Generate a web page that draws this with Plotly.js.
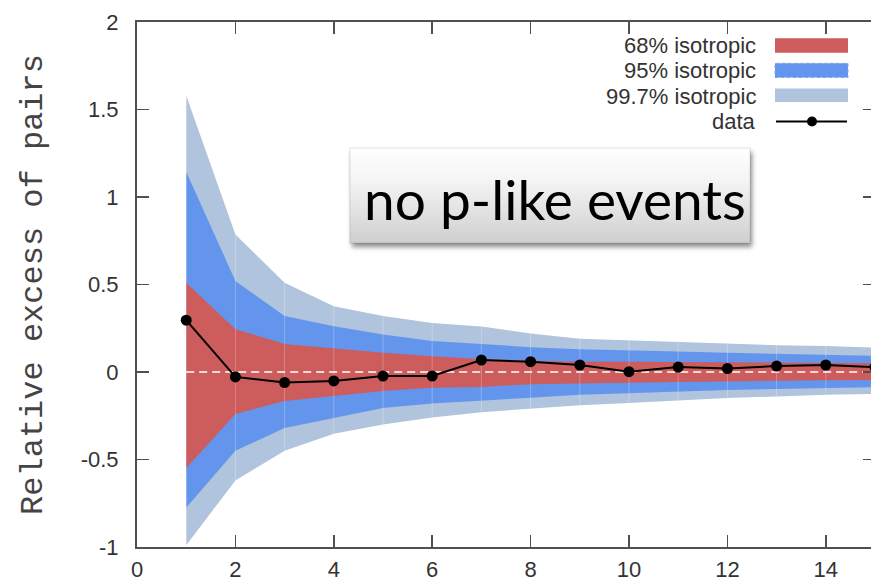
<!DOCTYPE html>
<html>
<head>
<meta charset="utf-8">
<script src="https://cdn.plot.ly/plotly-3.0.1.min.js"></script>
<style>
html,body{margin:0;padding:0;background:#fff;overflow:hidden;width:871px;height:586px;}
#chart{width:880px;height:586px;}
</style>
</head>
<body>
<div id="chart"></div>
<script>
// ---- data ----
const xVals = [1, 2, 3, 4, 5, 6, 7, 8, 9, 10, 11, 12, 13, 14, 15];
const p68Hi = [0.51, 0.245, 0.16, 0.135, 0.11, 0.09, 0.075, 0.065, 0.058, 0.058, 0.057, 0.055, 0.053, 0.052, 0.05];
const p68Lo = [-0.55, -0.24, -0.165, -0.135, -0.108, -0.09, -0.085, -0.07, -0.068, -0.062, -0.057, -0.052, -0.05, -0.047, -0.045];
const p95Hi = [1.145, 0.52, 0.32, 0.262, 0.215, 0.177, 0.16, 0.142, 0.13, 0.125, 0.117, 0.11, 0.103, 0.097, 0.093];
const p95Lo = [-0.775, -0.45, -0.32, -0.262, -0.205, -0.18, -0.165, -0.147, -0.13, -0.12, -0.112, -0.103, -0.097, -0.09, -0.087];
const p997Hi = [1.58, 0.786, 0.51, 0.376, 0.32, 0.28, 0.26, 0.22, 0.19, 0.18, 0.17, 0.16, 0.153, 0.148, 0.14];
const p997Lo = [-0.99, -0.62, -0.45, -0.353, -0.30, -0.26, -0.23, -0.21, -0.19, -0.177, -0.162, -0.148, -0.14, -0.13, -0.125];
const dataY = [0.296, -0.028, -0.06, -0.051, -0.023, -0.023, 0.068, 0.059, 0.04, 0.002, 0.028, 0.02, 0.034, 0.04, 0.028];
const zeroX = [1, 15];
const zeroY = [0, 0];
const legendNames = ['68% isotropic', '95% isotropic', '99.7% isotropic', 'data'];
const xTickVals = [0, 2, 4, 6, 8, 10, 12, 14];
const xTickText = ['0', '2', '4', '6', '8', '10', '12', '14'];
const yTickVals = [-1, -0.5, 0, 0.5, 1, 1.5, 2];
const yTickText = ['-1', '-0.5', '0', '0.5', '1', '1.5', '2'];
const yTitle = 'Relative excess of pairs';
const boxText = 'no p-like events';

// ---- styles ----
const C68 = '#cd5c5c', C95 = '#6495ed', C997 = '#b0c4de';
const AX = '#505050';

function band(lo, hi, color, name) {
  return [
    {x: xVals, y: lo, mode: 'lines', line: {width: 0}, showlegend: false, hoverinfo: 'skip', name: name + ' low'},
    {x: xVals, y: hi, mode: 'lines', line: {width: 0}, fill: 'tonexty', fillcolor: color, showlegend: false, name: name}
  ];
}

// faint seams between polygon segments
const seamX = [], seamY = [];
xVals.forEach((xv, i) => { seamX.push(xv, xv, null); seamY.push(p997Lo[i], p997Hi[i], null); });

const traces = [
  ...band(p997Lo, p997Hi, C997, legendNames[2]),
  ...band(p95Lo, p95Hi, C95, legendNames[1]),
  ...band(p68Lo, p68Hi, C68, legendNames[0]),
  {x: seamX, y: seamY, mode: 'lines', line: {color: 'rgba(255,255,255,0.25)', width: 1}, showlegend: false, hoverinfo: 'skip'},
  {x: zeroX, y: zeroY, mode: 'lines', line: {color: 'rgba(255,236,236,0.85)', width: 2, dash: '8px,5px'}, showlegend: false, hoverinfo: 'skip'},
  {x: xVals, y: dataY, mode: 'lines+markers', name: legendNames[3], line: {color: '#000', width: 2}, marker: {color: '#000', size: 11}, showlegend: false}
];

// pixel helpers for decorations (plot: left 137, top 22, width 738, height 525)
const PL = 137, PT = 22, PW = 738, PH = 525;
const px = v => (v - PL) / PW;
const py = v => (PT + PH - v) / PH;

const svg = "<svg xmlns='http://www.w3.org/2000/svg' width='416' height='110' viewBox='0 0 416 110'>" +
  "<defs><linearGradient id='g' x1='0' y1='0' x2='0' y2='1'><stop offset='0' stop-color='#ffffff'/><stop offset='0.35' stop-color='#f4f4f4'/><stop offset='1' stop-color='#cfcfcf'/></linearGradient>" +
  "<filter id='f' x='-10%' y='-20%' width='120%' height='150%'><feGaussianBlur stdDeviation='2.5'/></filter></defs>" +
  "<rect x='5' y='6' width='400' height='95' fill='rgba(0,0,0,0.45)' filter='url(#f)'/>" +
  "<rect x='3' y='2' width='400' height='95' fill='url(#g)' stroke='rgba(0,0,0,0.10)' stroke-width='1'/></svg>";

const legendRows = [45.7, 70.5, 96, 121.5];
const annotations = legendNames.map((t, i) => ({
  xref: 'paper', yref: 'paper', x: px(758), y: py(legendRows[i]), xanchor: 'right', yanchor: 'middle',
  text: t, showarrow: false, font: {family: 'Liberation Sans, Arial, sans-serif', size: 22, color: '#333'}
}));
annotations.push({
  xref: 'paper', yref: 'paper', x: px(555), y: py(199), xanchor: 'center', yanchor: 'middle',
  text: boxText, showarrow: false, font: {family: 'Lato, sans-serif', size: 55, color: '#000'}
});

const shapes = [
  {type: 'rect', xref: 'paper', yref: 'paper', x0: px(775), x1: px(848), y0: py(52.7), y1: py(38.3), fillcolor: C68, line: {width: 0}},
  {type: 'rect', xref: 'paper', yref: 'paper', x0: px(775), x1: px(848), y0: py(77.5), y1: py(63.3), fillcolor: C95, line: {color: '#7aa6f0', width: 1, dash: 'dot'}},
  {type: 'rect', xref: 'paper', yref: 'paper', x0: px(775), x1: px(848), y0: py(102), y1: py(88.5), fillcolor: C997, line: {width: 0}},
  {type: 'line', xref: 'paper', yref: 'paper', x0: px(776), x1: px(847), y0: py(121.5), y1: py(121.5), line: {color: '#000', width: 2}},
  {type: 'circle', xref: 'paper', yref: 'paper', x0: px(807), x1: px(817), y0: py(126.5), y1: py(116.5), fillcolor: '#000', line: {width: 0}}
];

const layout = {
  width: 880, height: 586,
  margin: {l: 137, r: 5, t: 22, b: 39},
  paper_bgcolor: '#fff', plot_bgcolor: '#fff',
  showlegend: false,
  font: {family: 'Liberation Sans, Arial, sans-serif', size: 22, color: '#333'},
  xaxis: {
    range: [0, 15], tickvals: xTickVals, ticktext: xTickText,
    ticks: 'inside', ticklen: 12, tickwidth: 1.5, tickcolor: AX,
    showline: true, linecolor: AX, linewidth: 2, mirror: 'ticks',
    showgrid: false, zeroline: false, ticklabelstandoff: 2,
    tickfont: {family: 'Liberation Sans, Arial, sans-serif', size: 22, color: '#333'}
  },
  yaxis: {
    range: [-1, 2], tickvals: yTickVals, ticktext: yTickText,
    ticks: 'inside', ticklen: 12, tickwidth: 1.5, tickcolor: AX,
    showline: true, linecolor: AX, linewidth: 2, mirror: 'ticks',
    showgrid: false, zeroline: false, ticklabelstandoff: 12,
    tickfont: {family: 'Liberation Sans, Arial, sans-serif', size: 22, color: '#333'},
    title: {text: yTitle, font: {family: 'Liberation Mono, DejaVu Sans Mono, monospace', size: 32, color: '#444'}, standoff: 28}
  },
  images: [{
    source: 'data:image/svg+xml;charset=utf-8,' + encodeURIComponent(svg),
    xref: 'paper', yref: 'paper', x: px(347), y: py(146), sizex: 416 / PW, sizey: 110 / PH,
    xanchor: 'left', yanchor: 'top', sizing: 'stretch', layer: 'above'
  }],
  annotations: annotations,
  shapes: shapes
};

Plotly.newPlot('chart', traces, layout, {displayModeBar: false, staticPlot: true});
</script>
</body>
</html>
